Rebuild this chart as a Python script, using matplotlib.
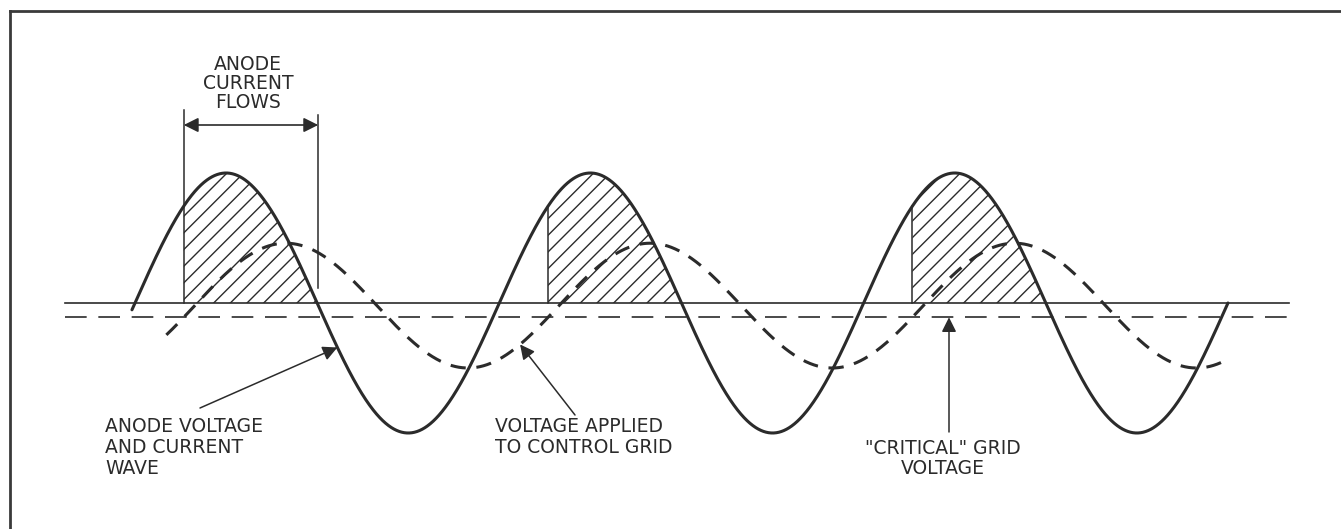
import numpy as np
import matplotlib
matplotlib.use("Agg")
import matplotlib.pyplot as plt
from matplotlib.lines import Line2D

# ---------------- data ----------------
# phase axis in electrical degrees, voltages relative to anode peak
cycle_starts_deg = [0, 360, 720]          # rising zero crossings of anode wave
anode_amplitude = 1.0
anode_range_deg = [-3, 1080]
grid_amplitude = 0.48
grid_bias = -0.02
grid_lag_deg = 59
grid_range_deg = [31, 1079]
critical_voltage = -0.11
baseline_range_deg = [-69, 1140]
labels_anode = ["ANODE", "CURRENT", "FLOWS"]
label_wave = ["ANODE VOLTAGE", "AND CURRENT", "WAVE"]
label_grid = ["VOLTAGE APPLIED", "TO CONTROL GRID"]
label_crit = ['"CRITICAL" GRID', "VOLTAGE"]

# ---------------- layout helpers ----------------
W, H = 1341, 529
PX_PER_DEG = 1.012
X0_PX, Y0_PX, PX_PER_V = 135, 303, 130

def px(x, y):
    return (x - X0_PX) / PX_PER_DEG, (Y0_PX - y) / PX_PER_V

def anode(t):
    return anode_amplitude * np.sin(np.radians(t))

def grid(t):
    return grid_amplitude * np.sin(np.radians(t - grid_lag_deg)) + grid_bias

INK = "#2b2b2b"
plt.rcParams["hatch.linewidth"] = 1.0
plt.rcParams["font.family"] = ["DejaVu Sans"]

fig = plt.figure(figsize=(W / 100, H / 100), dpi=100)
fig.patch.set_facecolor("white")
ax = fig.add_axes([0, 0, 1, 1])
ax.set_xlim(px(0, 0)[0], px(W, 0)[0])
ax.set_ylim(px(0, H)[1], px(0, 0)[1])
ax.axis("off")

# frame (top and left edges)
fx, fy = 10 / W, 1 - 11 / H
fig.add_artist(Line2D([fx, 1], [fy, fy], color="#3a3a3a", lw=2.0))
fig.add_artist(Line2D([fx, fx], [0, fy], color="#3a3a3a", lw=2.0))

# baseline and critical grid voltage
ax.plot(baseline_range_deg, [0, 0], color=INK, lw=1.2)
ax.plot([baseline_range_deg[0], baseline_range_deg[1] + 2], [critical_voltage] * 2,
        color=INK, lw=1.2, linestyle=(0, (13, 7)))

# firing angles: grid wave crossing the critical voltage upward
tt = np.linspace(0, 1080, 108001)
g = grid(tt) - critical_voltage
cross = tt[1:][(g[:-1] < 0) & (g[1:] >= 0)]
fire = [cross[np.argmin(np.abs(cross - (c + 50)))] for c in cycle_starts_deg]

# hatched conduction regions
for c, f in zip(cycle_starts_deg, fire):
    xs = np.linspace(f, c + 180, 300)
    ax.fill_between(xs, 0, anode(xs), facecolor="none", edgecolor=INK,
                    hatch="//", linewidth=0)
    ax.plot([f, f], [0, anode(f)], color=INK, lw=1.1)

# anode wave
ta = np.linspace(anode_range_deg[0], anode_range_deg[1], 3000)
ax.plot(ta, anode(ta), color=INK, lw=2.2, solid_capstyle="round")

# grid wave
tg = np.linspace(grid_range_deg[0], grid_range_deg[1], 3000)
ax.plot(tg, grid(tg), color=INK, lw=2.2, linestyle=(0, (5, 3.5)))

# dimension "anode current flows"
f0 = fire[0]
end0 = cycle_starts_deg[0] + 180
ax.plot([f0, f0], [anode(f0), px(0, 110)[1]], color=INK, lw=1.1)
ax.plot([end0 + 1, end0 + 1], [px(0, 288)[1], px(0, 115)[1]], color=INK, lw=1.1)
yarr = px(0, 125)[1]
ax.annotate("", xy=(f0, yarr), xytext=(end0 + 1, yarr),
            arrowprops=dict(arrowstyle="<|-|>", color=INK, lw=1.2,
                            mutation_scale=22, shrinkA=0, shrinkB=0))

fs = 13.5
cx = px(248, 0)[0]
for i, s in enumerate(labels_anode):
    ax.text(cx, px(0, 65 + 18.5 * i)[1], s, ha="center", va="center",
            fontsize=fs, color=INK)

for i, s in enumerate(label_wave):
    x, y = px(105, 427 + 20.7 * i)
    ax.text(x, y, s, ha="left", va="center", fontsize=fs, color=INK)

for i, s in enumerate(label_grid):
    x, y = px(495, 427 + 20.7 * i)
    ax.text(x, y, s, ha="left", va="center", fontsize=fs, color=INK)

for i, s in enumerate(label_crit):
    x, y = px(943, 448 + 21 * i)
    ax.text(x, y, s, ha="center", va="center", fontsize=fs, color=INK)

ap = dict(arrowstyle="-|>", color=INK, lw=1.1, mutation_scale=22,
          shrinkA=0, shrinkB=0)
t1 = 200
ax.annotate("", xy=(t1, anode(t1)), xytext=px(200, 408), arrowprops=ap)
t2 = 380.5
ax.annotate("", xy=(t2, grid(t2)), xytext=px(575, 415), arrowprops=ap)
t3 = px(949, 0)[0]
ax.annotate("", xy=(t3, critical_voltage), xytext=(t3, px(0, 432)[1]), arrowprops=ap)

fig.savefig("out.png", dpi=100, facecolor="white")
